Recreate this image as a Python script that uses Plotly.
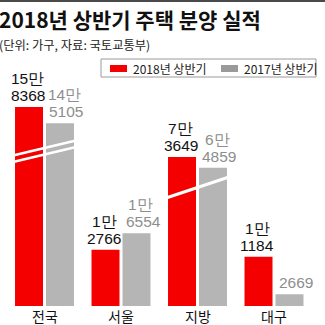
import plotly.graph_objects as go

# 2018 vs 2017 first-half housing supply (units: households)
categories = ["전국", "서울", "지방", "대구"]
values_2018 = [158368, 12766, 73649, 11184]
values_2017 = [145105, 16554, 64859, 2669]
series_names = ["2018년 상반기", "2017년 상반기"]

# Broken-axis settings: above the cut value a bar is drawn compressed
BREAK_CUT = {"전국": 1228, "지방": 18392}
BREAK_SCALE = 0.28

RED = "#f50000"
GRAY = "#b5b5b5"
GRAY_TEXT = "#8e8e8e"
FONT_KR = "Noto Sans CJK KR"
FONT_NUM = "Liberation Sans, Arial, sans-serif"

W = H = 325
PX_PER_UNIT = 0.0044           # vertical scale of the unbroken part
BASE_PX = 306                  # baseline distance from the top
CAT_PX = 76.5                  # width of one category slot
FIRST_CENTER_PX = 44.5
BAR_PX = 28
NUM_SIZE = 15.5
DIGIT_PX = 0.556 * NUM_SIZE


def drawn(cat, v):
    cut = BREAK_CUT.get(cat)
    if cut is None or v <= cut:
        return v
    return cut + (v - cut) * BREAK_SCALE


def split_man(v):
    man, rest = divmod(v, 10000)
    return (f"{man}만", f"{rest}") if man else (None, f"{rest}")


h18 = [drawn(c, v) for c, v in zip(categories, values_2018)]
h17 = [drawn(c, v) for c, v in zip(categories, values_2017)]

fig = go.Figure()
fig.add_bar(x=categories, y=h18, name=series_names[0], marker_color=RED,
            marker_line_width=0, showlegend=False, hoverinfo="skip")
fig.add_bar(x=categories, y=h17, name=series_names[1], marker_color=GRAY,
            marker_line_width=0, showlegend=False, hoverinfo="skip")

y_lo = -(H - BASE_PX) / PX_PER_UNIT
y_hi = BASE_PX / PX_PER_UNIT
x_lo = -FIRST_CENTER_PX / CAT_PX
x_hi = (W - FIRST_CENTER_PX) / CAT_PX

annotations = []
offset = 15.5 / CAT_PX
num_font_dark = dict(family=FONT_NUM, size=NUM_SIZE, color="#111111")
num_font_gray = dict(family=FONT_NUM, size=NUM_SIZE, color=GRAY_TEXT)
for i, cat in enumerate(categories):
    # 2018 labels: centred over the red bar
    top, bottom = split_man(values_2018[i])
    xr = i - offset - 1.5 / CAT_PX
    annotations.append(dict(x=xr, y=h18[i], xref="x", yref="y", text=bottom,
                            showarrow=False, yanchor="bottom", yshift=1, font=num_font_dark))
    if top:
        annotations.append(dict(x=xr, y=h18[i], xref="x", yref="y", text=top,
                                showarrow=False, yanchor="bottom", yshift=18, font=num_font_dark))
    # 2017 labels: start at the grey bar's left edge
    top, bottom = split_man(values_2017[i])
    left = i + offset - (BAR_PX / 2 - 1) / CAT_PX
    mid = left + (len(bottom) * DIGIT_PX / 2) / CAT_PX
    annotations.append(dict(x=left, y=h17[i], xref="x", yref="y", text=bottom, xanchor="left",
                            showarrow=False, yanchor="bottom", yshift=1, font=num_font_gray))
    if top:
        annotations.append(dict(x=mid, y=h17[i], xref="x", yref="y", text=top,
                                showarrow=False, yanchor="bottom", yshift=18, font=num_font_gray))
    annotations.append(dict(x=i, y=0, xref="x", yref="y", text=cat, showarrow=False,
                            yanchor="middle", yshift=-9.5,
                            font=dict(family=FONT_KR, size=14, color="#111111")))

# title and source
annotations.append(dict(x=0, y=1 - 3 / H, xref="paper", yref="paper", xanchor="left",
                        yanchor="top", xshift=-2, text="<b>2018년 상반기 주택 분양 실적</b>",
                        showarrow=False, borderpad=0,
                        font=dict(family=FONT_KR, size=21, color="#111111")))
annotations.append(dict(x=0, y=1 - 34.5 / H, xref="paper", yref="paper", xanchor="left",
                        yanchor="top", xshift=-2, text="(단위: 가구, 자료: 국토교통부)",
                        showarrow=False, borderpad=0,
                        font=dict(family=FONT_KR, size=12.3, color="#222222")))


def px_x(p):
    return p / W


def px_y(p):
    return 1 - p / H


shapes = [
    # top rule
    dict(type="rect", xref="paper", yref="paper", x0=0, x1=1, y0=px_y(2), y1=1,
         fillcolor="#4a4a4a", line_width=0),
    # legend frame and swatches
    dict(type="rect", xref="paper", yref="paper", x0=px_x(101), x1=px_x(316),
         y0=px_y(77), y1=px_y(59), line=dict(color="#9a9a9a", width=1), fillcolor="white"),
    dict(type="rect", xref="paper", yref="paper", x0=px_x(110), x1=px_x(127),
         y0=px_y(72), y1=px_y(65), fillcolor=RED, line_width=0),
    dict(type="rect", xref="paper", yref="paper", x0=px_x(221), x1=px_x(238),
         y0=px_y(72), y1=px_y(65), fillcolor="#9a9a9a", line_width=0),
]
annotations.append(dict(x=px_x(131), y=px_y(68.5), xref="paper", yref="paper",
                        xanchor="left", yanchor="middle", text=series_names[0], showarrow=False,
                        font=dict(family=FONT_KR, size=12, color="#222222")))
annotations.append(dict(x=px_x(242), y=px_y(68.5), xref="paper", yref="paper",
                        xanchor="left", yanchor="middle", text=series_names[1], showarrow=False,
                        font=dict(family=FONT_KR, size=12, color="#222222")))


# break marks across the compressed bars
def hpx(p):
    return (BASE_PX - p) / PX_PER_UNIT


def slash(cat_idx, y0_px, y1_px, width):
    half = 31.5 / CAT_PX
    return dict(type="line", xref="x", yref="y", x0=cat_idx - half, x1=cat_idx + half,
                y0=hpx(y0_px), y1=hpx(y1_px), line=dict(color="white", width=width))


shapes.append(slash(0, 155.5, 140.5, 2.5))
shapes.append(slash(0, 162, 147, 2.5))
shapes.append(slash(2, 198, 177, 3))

fig.update_layout(
    width=W, height=H, margin=dict(l=0, r=0, t=0, b=0),
    paper_bgcolor="white", plot_bgcolor="white",
    barmode="group", bargap=0.19, bargroupgap=0.097,
    xaxis=dict(type="category", range=[x_lo, x_hi], visible=False, fixedrange=True),
    yaxis=dict(range=[y_lo, y_hi], visible=False, fixedrange=True),
    annotations=annotations, shapes=shapes, showlegend=False,
)

fig.write_html("out.html", config={"displayModeBar": False})
